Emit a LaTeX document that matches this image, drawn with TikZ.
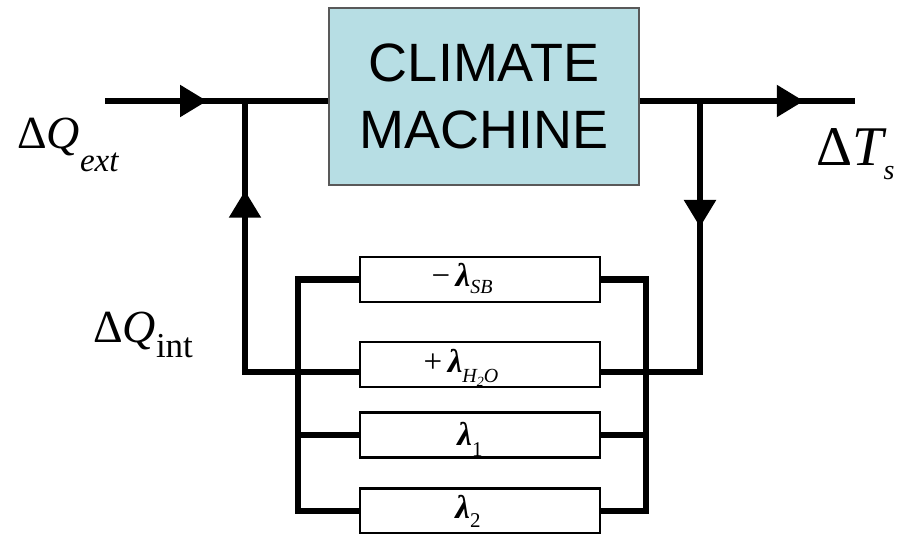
\documentclass[tikz,border=0pt]{standalone}
\usepackage{fontspec}
\setmainfont{Liberation Serif}
\newfontfamily\machinefont{Liberation Sans}
\usetikzlibrary{arrows.meta, decorations.markings}
\definecolor{machine}{RGB}{183,222,228}
\newcommand{\lam}{\textbf{\textit{λ}}}
\newcommand{\lsub}[2][6pt]{\raisebox{-#1}{\fontsize{20}{20}\selectfont\itshape #2}}

\begin{document}
\begin{tikzpicture}[x=1pt, y=-1pt,
    wire/.style={line width=5.5pt},
    bus/.style={line width=6.5pt},
    midarrow/.style={postaction={decorate}, decoration={markings,
        mark=at position #1 with {\arrow{Triangle[length=27pt,width=31pt]}}}},
    gain/.style={draw, line width=2.5pt, fill=white, minimum width=240pt, minimum height=45pt, inner sep=0pt},
    lam/.style={inner sep=0pt, anchor=base, font=\fontsize{33}{35}\selectfont},
    sym/.style={inner sep=0pt, anchor=base west}]
\useasboundingbox (0,0) rectangle (903,534);

% climate machine block
\node[draw=black!65, line width=1.5pt, fill=machine, minimum width=310pt, minimum height=177pt,
      align=center, font=\machinefont\fontsize{54}{67}\selectfont] (cm) at (484,96.5) {CLIMATE\\MACHINE};

% feedback gains in parallel
\node[gain] (b1) at (480,279.5) {};
\node[gain] (b2) at (480,364.5) {};
\node[gain] (b3) at (480,435) {};
\node[gain] (b4) at (480,511) {};
\node[lam] (l1) at (462,287) {−\,\lam\lsub[7pt]{SB}};
\node[lam] (l2) at (461,373) {+\,\lam\lsub[10pt]{H\raisebox{-4pt}{\fontsize{14}{14}\selectfont 2}O}};
\node[lam] (l3) at (470,446) {\lam\lsub[11pt]{\upshape\fontsize{21}{21}\selectfont 1}};
\node[lam] (l4) at (468,519) {\lam\lsub[9pt]{\upshape\fontsize{21}{21}\selectfont 2}};

% in / out labels
\node[sym] (qext) at (17,149) {\fontsize{46}{46}\selectfont Δ\textit{Q}\raisebox{-23pt}{\fontsize{33}{33}\selectfont\textit{ext}}};
\node[sym] (qint) at (93,343) {\fontsize{46}{46}\selectfont Δ\textit{Q}\raisebox{-15pt}{\fontsize{35}{35}\selectfont int}};
\node[sym] (ts) at (816,166) {\fontsize{56}{56}\selectfont Δ\textit{T}\kern-3pt\raisebox{-14pt}{\fontsize{28}{28}\selectfont\textit{s}}};

\coordinate (qin) at (105,101);
\coordinate (tout) at (855,101);
\coordinate (jl) at (245,101);
\coordinate (jr) at (700,101);
\coordinate (fb) at (0,372);
\coordinate (busl) at (298,0);
\coordinate (busr) at (646,0);

% forward path
\draw[wire, midarrow=102pt] (qin) -- (cm.west |- qin);
\draw[wire, midarrow=164pt] (cm.east |- tout) -- (tout);

% feedback loop
\draw[wire, midarrow=126pt] (jr) -- (jr |- fb) -- (b2.east |- fb);
\draw[wire, midarrow=295pt] (b2.west |- fb) -- (jl |- fb) -- (jl);

% buses joining the gains
\draw[bus] (b1.west) -- (busl |- b1.west) -- (busl |- b4.west) -- (b4.west);
\draw[bus] (b3.west) -- (busl |- b3.west);
\draw[bus] (b1.east) -- (busr |- b1.east) -- (busr |- b4.east) -- (b4.east);
\draw[bus] (b3.east) -- (busr |- b3.east);
\end{tikzpicture}
\end{document}
